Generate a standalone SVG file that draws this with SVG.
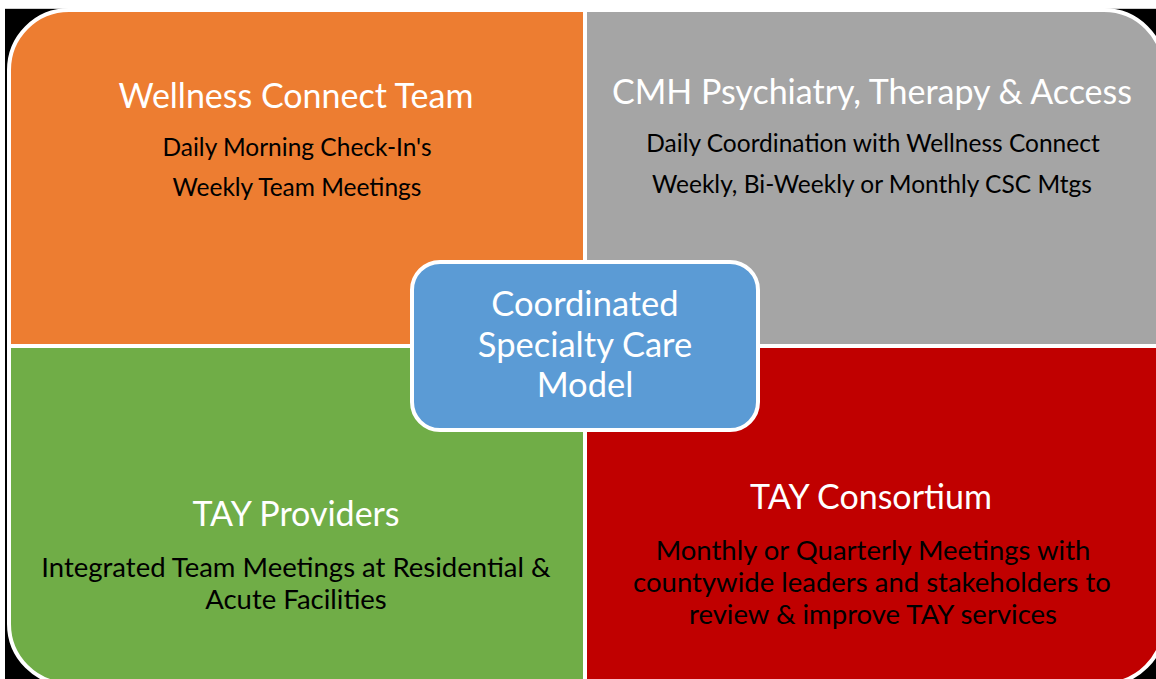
<svg xmlns="http://www.w3.org/2000/svg" width="1156" height="679" viewBox="0 0 1156 679">
  <style>
    .quad { stroke: #ffffff; stroke-width: 4; }
    .title { font-family: Lato, "Liberation Sans", sans-serif; fill: #ffffff; text-anchor: middle; font-size: 34px; }
    .body { font-family: Lato, "Liberation Sans", sans-serif; fill: #000000; text-anchor: middle; }
    .small { font-size: 24.5px; }
    .large { font-size: 27.5px; }
  </style>
  <!-- page and dark backdrop showing through the outer corners -->
  <rect x="0" y="0" width="1156" height="679" fill="#ffffff"/>
  <rect x="5" y="8" width="1151" height="671" fill="#000000"/>
  <line x1="5" y1="8.5" x2="1156" y2="8.5" stroke="#d0d0d0" stroke-width="1"/>

  <g id="wellness-connect-team">
    <path class="quad" fill="#ED7D31" d="M9,70 A60,60 0 0 1 69,10 H585 V346 H9 Z"/>
    <text class="title" x="296" y="108">Wellness Connect Team</text>
    <text class="body small" x="297" y="156">Daily Morning Check-In's</text>
    <text class="body small" x="297" y="196">Weekly Team Meetings</text>
  </g>

  <g id="cmh-psychiatry">
    <path class="quad" fill="#A5A5A5" d="M585,10 H1104 A60,60 0 0 1 1164,70 V346 H585 Z"/>
    <text class="title" x="872" y="104">CMH Psychiatry, Therapy &amp; Access</text>
    <text class="body small" x="873" y="152">Daily Coordination with Wellness Connect</text>
    <text class="body small" x="872" y="193">Weekly, Bi-Weekly or Monthly CSC Mtgs</text>
  </g>

  <g id="tay-providers">
    <path class="quad" fill="#70AD47" d="M9,346 H585 V684 H69 A60,60 0 0 1 9,624 Z"/>
    <text class="title" x="296" y="526">TAY Providers</text>
    <text class="body large" x="296" y="577">Integrated Team Meetings at Residential &amp;</text>
    <text class="body large" x="296" y="609">Acute Facilities</text>
  </g>

  <g id="tay-consortium">
    <path class="quad" fill="#C00000" d="M585,346 H1164 V624 A60,60 0 0 1 1104,684 H585 Z"/>
    <text class="title" x="871" y="509">TAY Consortium</text>
    <text class="body large" x="873" y="560">Monthly or Quarterly Meetings with</text>
    <text class="body large" x="872" y="592">countywide leaders and stakeholders to</text>
    <text class="body large" x="873" y="624">review &amp; improve TAY services</text>
  </g>

  <g id="coordinated-specialty-care-model">
    <rect x="412" y="262" width="346" height="168" rx="28" ry="28" fill="#5B9BD5" stroke="#ffffff" stroke-width="4"/>
    <text class="title" x="585" y="316" style="font-size:34.5px">Coordinated</text>
    <text class="title" x="585" y="357" style="font-size:34.5px">Specialty Care</text>
    <text class="title" x="585" y="397" style="font-size:34.5px">Model</text>
  </g>

  <g id="connectors"/>
</svg>
